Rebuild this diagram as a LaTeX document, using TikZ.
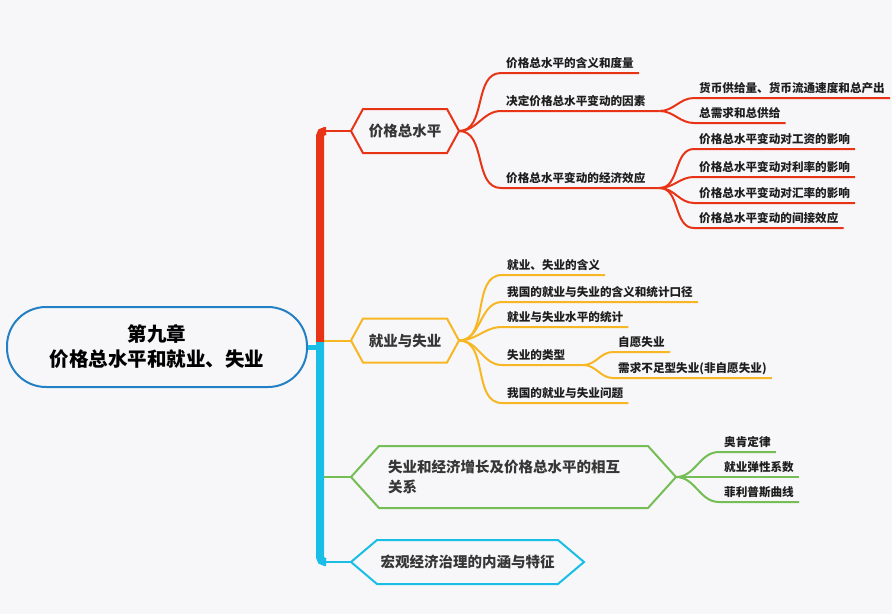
\documentclass[tikz,border=0pt]{standalone}
\usepackage{fontspec}
\setmainfont{Noto Sans CJK SC}
\usepackage{tikz}

\definecolor{bgc}{HTML}{F7F7F9}
\definecolor{redc}{HTML}{E83416}
\definecolor{orgc}{HTML}{F7B724}
\definecolor{grnc}{HTML}{75BE55}
\definecolor{cyac}{HTML}{18BEE6}
\definecolor{rootc}{HTML}{2480C4}
\definecolor{hexgray}{HTML}{363636}
\definecolor{leafgray}{HTML}{1E1E1E}

\tikzset{
    branch/.style={line width=2pt},
    trunk/.style={line width=8pt},
    rootbox/.style={draw=rootc, line width=2pt, rounded corners=39pt,
        minimum width=300pt, minimum height=80pt, align=center,
        font=\fontsize{19.5}{25}\selectfont\bfseries},
    hexbox/.style={minimum height=42pt, inner sep=0pt, text=hexgray,
        font=\fontsize{14.5}{20}\selectfont\bfseries,
        append after command={(\tikzlastnode.west)
            -- ([xshift=#1]\tikzlastnode.north west)
            -- ([xshift=-#1]\tikzlastnode.north east)
            -- (\tikzlastnode.east)
            -- ([xshift=-#1]\tikzlastnode.south east)
            -- ([xshift=#1]\tikzlastnode.south west) -- cycle}},
    leaf/.style={anchor=south west, inner xsep=5pt, inner ysep=3pt,
        text height=10pt, text depth=2pt, text=leafgray,
        font=\fontsize{11.6}{14}\selectfont\bfseries}
}

\begin{document}
\begin{tikzpicture}[x=1pt, y=-1pt]
    \fill [bgc] (0,0) rectangle (892,614);
    \useasboundingbox (0,0) rectangle (892,614);

    % root and main topics
    \node [rootbox] (root) at (157,347) {第九章\\价格总水平和就业、失业};
    \draw [redc, line width=2pt] (405,131) node [hexbox=12pt, minimum width=106pt] (h1) {价格总水平};
    \draw [orgc, line width=2pt] (405,340.5) node [hexbox=12pt, minimum width=106pt] (h2) {就业与失业};
    \draw [grnc, line width=2pt] (513.5,477) node [hexbox=28pt, minimum width=323pt, minimum height=60pt,
        text width=251pt, inner xsep=36pt, align=left] (h3) {失业和经济增长及价格总水平的相互\\关系};
    \draw [cyac, line width=2pt] (467.5,562) node [hexbox=26pt, minimum width=231pt] (h4) {宏观经济治理的内涵与特征};

    % trunk
    \coordinate (tj) at (320,342);
    \draw [branch, orgc] (tj |- h2.west) -- (h2.west);
    \draw [branch, grnc] (tj |- h3.west) -- (h3.west);
    \draw [branch, redc] (tj |- h1.west) -- (h1.west);
    \draw [branch, cyac] (tj |- h4.west) -- (h4.west);
    \draw [trunk, redc, rounded corners=5pt] (tj) -- (tj |- h1.west) -- ++(6,0);
    \draw [trunk, cyac, line width=5pt] (root.east) -- (tj |- root.east);
    \draw [trunk, cyac, rounded corners=5pt] (tj) -- (tj |- h4.west) -- ++(6,0);

    % price level
    \node [leaf] (r1) at (501,73) {价格总水平的含义和度量};
    \node [leaf] (r2) at (501,111) {决定价格总水平变动的因素};
    \node [leaf] (r3) at (501,188) {价格总水平变动的经济效应};
    \coordinate (r2f) at ([xshift=9pt]r2.south east);
    \coordinate (r3f) at ([xshift=9pt]r3.south east);
    \node [leaf] (r21) at (694,98) {货币供给量、货币流通速度和总产出};
    \node [leaf] (r22) at (694,123) {总需求和总供给};
    \node [leaf] (r31) at (694,149) {价格总水平变动对工资的影响};
    \node [leaf] (r32) at (694,177) {价格总水平变动对利率的影响};
    \node [leaf] (r33) at (694,203) {价格总水平变动对汇率的影响};
    \node [leaf] (r34) at (694,228) {价格总水平变动的间接效应};
    \draw [branch, redc] (h1.east) to [out=0, in=180] (r1.south west) -- (r1.south east);
    \draw [branch, redc] (h1.east) to [out=0, in=180] (r2.south west) -- (r2f);
    \draw [branch, redc] (h1.east) to [out=0, in=180] (r3.south west) -- (r3f);
    \foreach \k in {r21,r22}
        \draw [branch, redc] (r2f) to [out=0, in=180] (\k.south west) -- (\k.south east);
    \foreach \k in {r31,r32,r33,r34}
        \draw [branch, redc] (r3f) to [out=0, in=180] (\k.south west) -- (\k.south east);

    % employment
    \node [leaf] (o1) at (502,275) {就业、失业的含义};
    \node [leaf] (o2) at (502,302) {我国的就业与失业的含义和统计口径};
    \node [leaf] (o3) at (502,327) {就业与失业水平的统计};
    \node [leaf] (o4) at (502,365) {失业的类型};
    \node [leaf] (o5) at (502,403) {我国的就业与失业问题};
    \coordinate (o4f) at ([xshift=13pt]o4.south east);
    \node [leaf] (o41) at (613,352) {自愿失业};
    \node [leaf] (o42) at (613,378) {需求不足型失业(非自愿失业)};
    \foreach \k in {o1,o2,o3,o5}
        \draw [branch, orgc] (h2.east) to [out=0, in=180] (\k.south west) -- (\k.south east);
    \draw [branch, orgc] (h2.east) to [out=0, in=180] (o4.south west) -- (o4f);
    \foreach \k in {o41,o42}
        \draw [branch, orgc] (o4f) to [out=0, in=180] (\k.south west) -- (\k.south east);

    % relations
    \node [leaf] (g1) at (719,452) {奥肯定律};
    \node [leaf] (g2) at (719,477) {就业弹性系数};
    \node [leaf] (g3) at (719,502) {菲利普斯曲线};
    \foreach \k in {g1,g2,g3}
        \draw [branch, grnc] (h3.east) to [out=0, in=180] (\k.south west) -- (\k.south east);
\end{tikzpicture}
\end{document}
